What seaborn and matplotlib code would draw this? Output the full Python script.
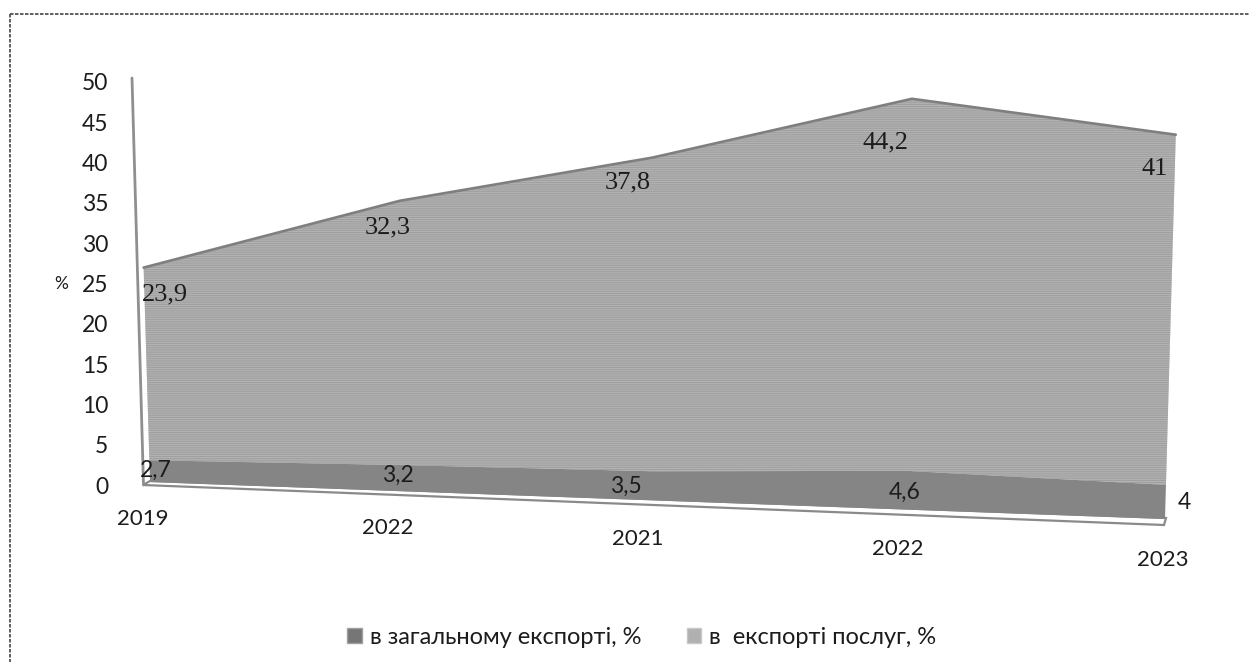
import numpy as np
import matplotlib
matplotlib.use("Agg")
import matplotlib.pyplot as plt
import matplotlib.transforms as mtrans
from matplotlib.lines import Line2D
from matplotlib.patches import Patch, Polygon
import seaborn as sns

years = ["2019", "2022", "2021", "2022", "2023"]
total_export = [2.7, 3.2, 3.5, 4.6, 4.0]
services_export = [23.9, 32.3, 37.8, 44.2, 41.0]
total_labels = ["2,7", "3,2", "3,5", "4,6", "4"]
services_labels = ["23,9", "32,3", "37,8", "44,2", "41"]
y_ticks = [0, 5, 10, 15, 20, 25, 30, 35, 40, 45, 50]
name_total = "в загальному експорті, %"
name_services = "в  експорті послуг, %"

W, H_PX = 1250, 662
sns.set_theme(style="white")
plt.rcParams["font.family"] = ["Lato", "DejaVu Sans"]
plt.rcParams["hatch.linewidth"] = 0.6

# tilted 3-D plane: four corners of the plane in pixels, and depth of each category
corner_00, corner_10 = np.array([150.0, 482.0]), np.array([1165.0, 519.0])
corner_01, corner_11 = np.array([138.0, 79.0]), np.array([1177.0, 92.0])
category_depth = [0, 0.25, 0.495, 0.745, 1]


class Tilted(mtrans.Transform):
    input_dims = output_dims = 2
    is_separable = False
    has_inverse = False

    def transform_non_affine(self, xy):
        xy = np.asarray(xy, float).reshape(-1, 2)
        s = np.interp(xy[:, 0], range(len(category_depth)), category_depth)[:, None]
        t = xy[:, 1:] / 50
        return ((1 - s) * (1 - t) * corner_00 + s * (1 - t) * corner_10
                + (1 - s) * t * corner_01 + s * t * corner_11)


to_display = mtrans.Affine2D().scale(1, -1).translate(0, H_PX)
T = Tilted() + to_display

fig = plt.figure(figsize=(W / 100, H_PX / 100), dpi=100, facecolor="white")
ax = fig.add_axes([143 / W, (H_PX - 485) / H_PX, 1020 / W, 403 / H_PX])
ax.set_facecolor("none")

idx = np.arange(len(years))
low = np.array(total_export)
top = low + np.array(services_export)

# floor and back wall frame
ax.add_patch(Polygon([(143, 485), (150, 481), (1166, 518), (1164, 525)], closed=True,
                     facecolor="white", edgecolor="#8a8a8a", linewidth=1.6,
                     transform=to_display, clip_on=False))
ax.add_line(Line2D([132, 143.5], [78, 485], color="#8f8f8f", lw=2,
                   transform=to_display, clip_on=False))

ax.fill_between(idx, low, top, transform=T, clip_on=False, facecolor="#b4b4b4",
                edgecolor="#9c9c9c", hatch="-" * 9, linewidth=0, zorder=2)
ax.fill_between(idx, 0, low, transform=T, clip_on=False, facecolor="#858585",
                edgecolor="none", linewidth=0, zorder=3)
sns.lineplot(x=idx, y=top, ax=ax, transform=T, clip_on=False, color="#7f7f7f",
             linewidth=1.9, zorder=4, legend=False)

# data labels, shifted from their nodes as in the reference (pixels)
services_shift = [(21, -27), (-12, -27), (-25, -25), (-26, -44), (-21, -34)]
total_shift = [(6, -10), (-5, -10), (-27, -15), (-2, -21), (18, -18)]
for i in idx:
    ax.annotate(services_labels[i], xy=(i, top[i]), xycoords=T,
                xytext=services_shift[i], textcoords="offset pixels",
                ha="center", va="center", fontsize=19, color="#1c1c1c",
                family=["Liberation Serif"], zorder=6, annotation_clip=False)
    ax.annotate(total_labels[i], xy=(i, low[i]), xycoords=T,
                xytext=total_shift[i], textcoords="offset pixels",
                ha="center", va="center", fontsize=16.5, color="#1c1c1c",
                zorder=6, annotation_clip=False)

ax.set_xlim(0, 4)
ax.set_ylim(0, 50)
sns.despine(ax=ax, left=True, bottom=True)
ax.set_yticks(y_ticks)
ax.set_yticklabels([str(t) for t in y_ticks], fontsize=16.5, color="#1c1c1c")
ax.tick_params(axis="y", length=0, pad=25)
ax.set_xticks([0, 0.96, 1.94, 2.96, 4])
ax.set_xticklabels(years, fontsize=16, color="#1c1c1c")
ax.tick_params(axis="x", length=0)
for tick, pad in zip(ax.xaxis.get_major_ticks(), [17, 24, 32, 39, 47]):
    tick.set_pad(pad)

fig.text(61 / W, 1 - 284 / H_PX, "%", fontsize=12.5, ha="center", va="center", color="#1c1c1c")

handles = [Patch(facecolor="#767676", edgecolor="#a0a0a0", label=name_total),
           Patch(facecolor="#b0b0b0", edgecolor="#c8c8c8", label=name_services)]
ax.legend(handles=handles, ncol=2, frameon=False, fontsize=17, loc="center",
          bbox_to_anchor=(642 / W, 1 - 637 / H_PX), bbox_transform=fig.transFigure,
          handlelength=0.6, handleheight=0.6, handletextpad=0.34, columnspacing=1.95,
          labelcolor="#1c1c1c")

# dashed page frame
for xs, ys in [([10, 1250], [14, 14]), ([10, 10], [14, 662])]:
    fig.add_artist(Line2D(xs, ys, color="#444444", lw=1.2, ls=(0, (2.1, 0.9)),
                          transform=to_display))

fig.savefig("out.png", dpi=100, facecolor="white")
